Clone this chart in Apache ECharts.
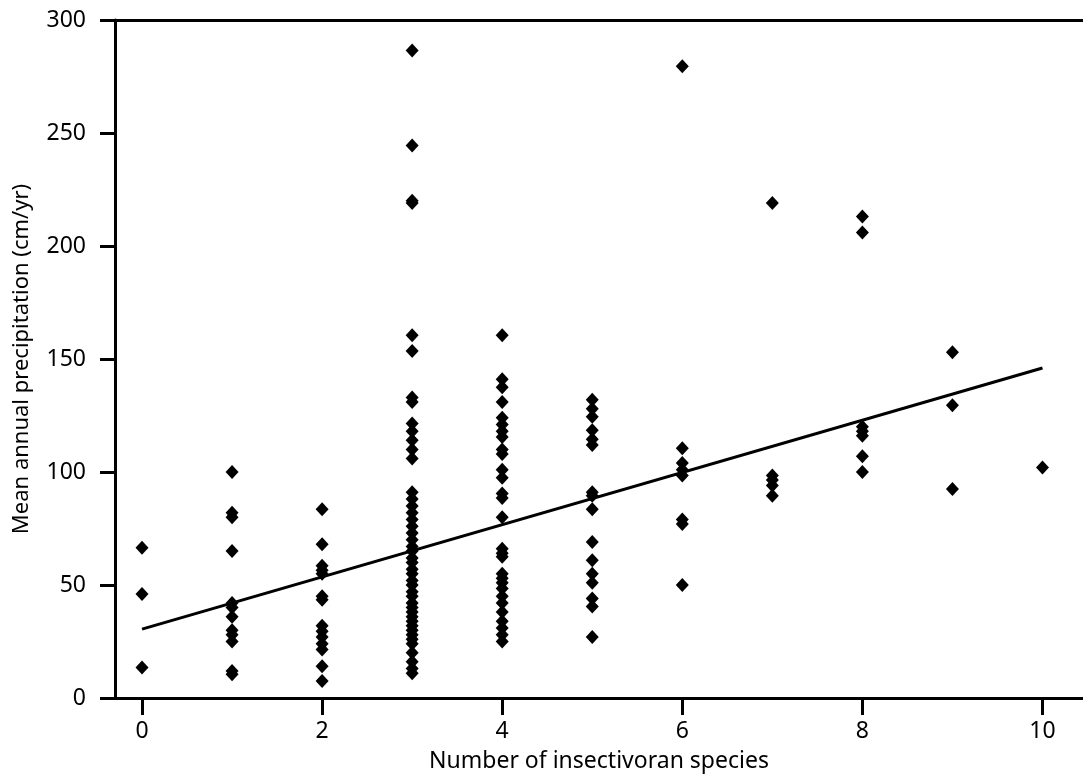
<!DOCTYPE html>
<html>
<head>
<meta charset="utf-8">
<script src="https://cdn.jsdelivr.net/npm/echarts@6/dist/echarts.min.js"></script>
<style>
  html, body { margin: 0; padding: 0; background: #fff; }
  #chart { width: 1083px; height: 781px; }
</style>
</head>
<body>
<div id="chart"></div>
<script>
// precipitation values (cm/yr) read for each number of insectivoran species
const speciesCounts = [0, 1, 2, 3, 4, 5, 6, 7, 8, 9, 10]
const precip0 = [66.5, 46, 13.5]
const precip1 = [100, 82, 80, 65, 42, 40, 36, 30, 28, 25, 12, 10.5]
const precip2 = [83.5, 68, 58.5, 56.5, 55, 45, 43.5, 32, 29.5, 27, 24, 21.5, 14, 7.5]
const precip3 = [286.5, 244.5, 220, 219, 160.5, 153.5, 133, 131, 121.5, 118, 114, 110, 106,
  91, 88, 85, 82, 79, 76, 73, 70, 67, 65, 62, 60, 57, 55, 52, 50, 47, 45, 42, 40, 38,
  36, 34, 32, 30, 28, 26, 24, 20, 16, 13, 11]
const precip4 = [160.5, 141, 137.5, 131, 124, 121, 118, 115.5, 110, 108, 101, 97.5, 90.5,
  88.5, 80, 66, 64, 62.5, 55, 53, 51, 48.5, 45, 42, 38, 34, 31, 28, 25]
const precip5 = [132, 128, 124.5, 118.5, 114.5, 112, 91, 89.5, 83.5, 69, 61, 55, 51, 44, 40.5, 27]
const precip6 = [279.5, 110.5, 104, 101, 98.5, 79, 77, 50]
const precip7 = [219, 98.5, 96.5, 94, 89.5]
const precip8 = [213, 206, 120, 118, 116, 107, 100]
const precip9 = [153, 129.5, 92.5]
const precip10 = [102]
const precipByCount = [precip0, precip1, precip2, precip3, precip4, precip5,
  precip6, precip7, precip8, precip9, precip10]

// fitted regression line end points
const fitX = [0, 10]
const fitY = [30.5, 146]

const xTicks = [0, 2, 4, 6, 8, 10]
const yTicks = [0, 50, 100, 150, 200, 250, 300]

const points = []
speciesCounts.forEach((n, i) => {
  precipByCount[i].forEach(v => points.push([n, v]))
})
const fitLine = fitX.map((x, i) => [x, fitY[i]])

const font = 'Noto Sans'
const chart = echarts.init(document.getElementById('chart'), null, { renderer: 'canvas' })

chart.setOption({
  animation: false,
  backgroundColor: '#fff',
  grid: { left: 115, right: 0, top: 20, bottom: 83 },
  xAxis: [
    {
      type: 'value',
      min: -0.3,
      max: 10.45,
      name: 'Number of insectivoran species',
      nameLocation: 'middle',
      nameGap: 52,
      nameTextStyle: { fontFamily: font, fontSize: 23, color: '#000' },
      splitLine: { show: false },
      axisLine: { onZero: false, lineStyle: { color: '#000', width: 3 } },
      axisTick: { customValues: xTicks, length: 17, lineStyle: { color: '#000', width: 3 } },
      axisLabel: { customValues: xTicks, margin: 22, fontFamily: font, fontSize: 23, color: '#000' }
    },
    {
      type: 'value',
      position: 'top',
      min: -0.3,
      max: 10.45,
      splitLine: { show: false },
      axisLine: { onZero: false, lineStyle: { color: '#000', width: 3 } },
      axisTick: { show: false },
      axisLabel: { show: false }
    }
  ],
  yAxis: {
    type: 'value',
    min: 0,
    max: 300,
    interval: 50,
    name: 'Mean annual precipitation (cm/yr)',
    nameLocation: 'middle',
    nameGap: 82,
    nameTextStyle: { fontFamily: font, fontSize: 22, color: '#000' },
    splitLine: { show: false },
    axisLine: { show: true, onZero: false, lineStyle: { color: '#000', width: 3 } },
    axisTick: { length: 15, lineStyle: { color: '#000', width: 3 } },
    axisLabel: { margin: 29, fontFamily: font, fontSize: 23, color: '#000',
      formatter: v => (yTicks.includes(v) ? String(v) : '') }
  },
  series: [
    {
      type: 'scatter',
      data: points,
      symbol: 'diamond',
      symbolSize: [13, 14],
      itemStyle: { color: '#000', opacity: 1 },
      z: 3
    },
    {
      type: 'line',
      data: fitLine,
      showSymbol: false,
      lineStyle: { color: '#000', width: 3 },
      z: 4
    }
  ]
})
</script>
</body>
</html>
